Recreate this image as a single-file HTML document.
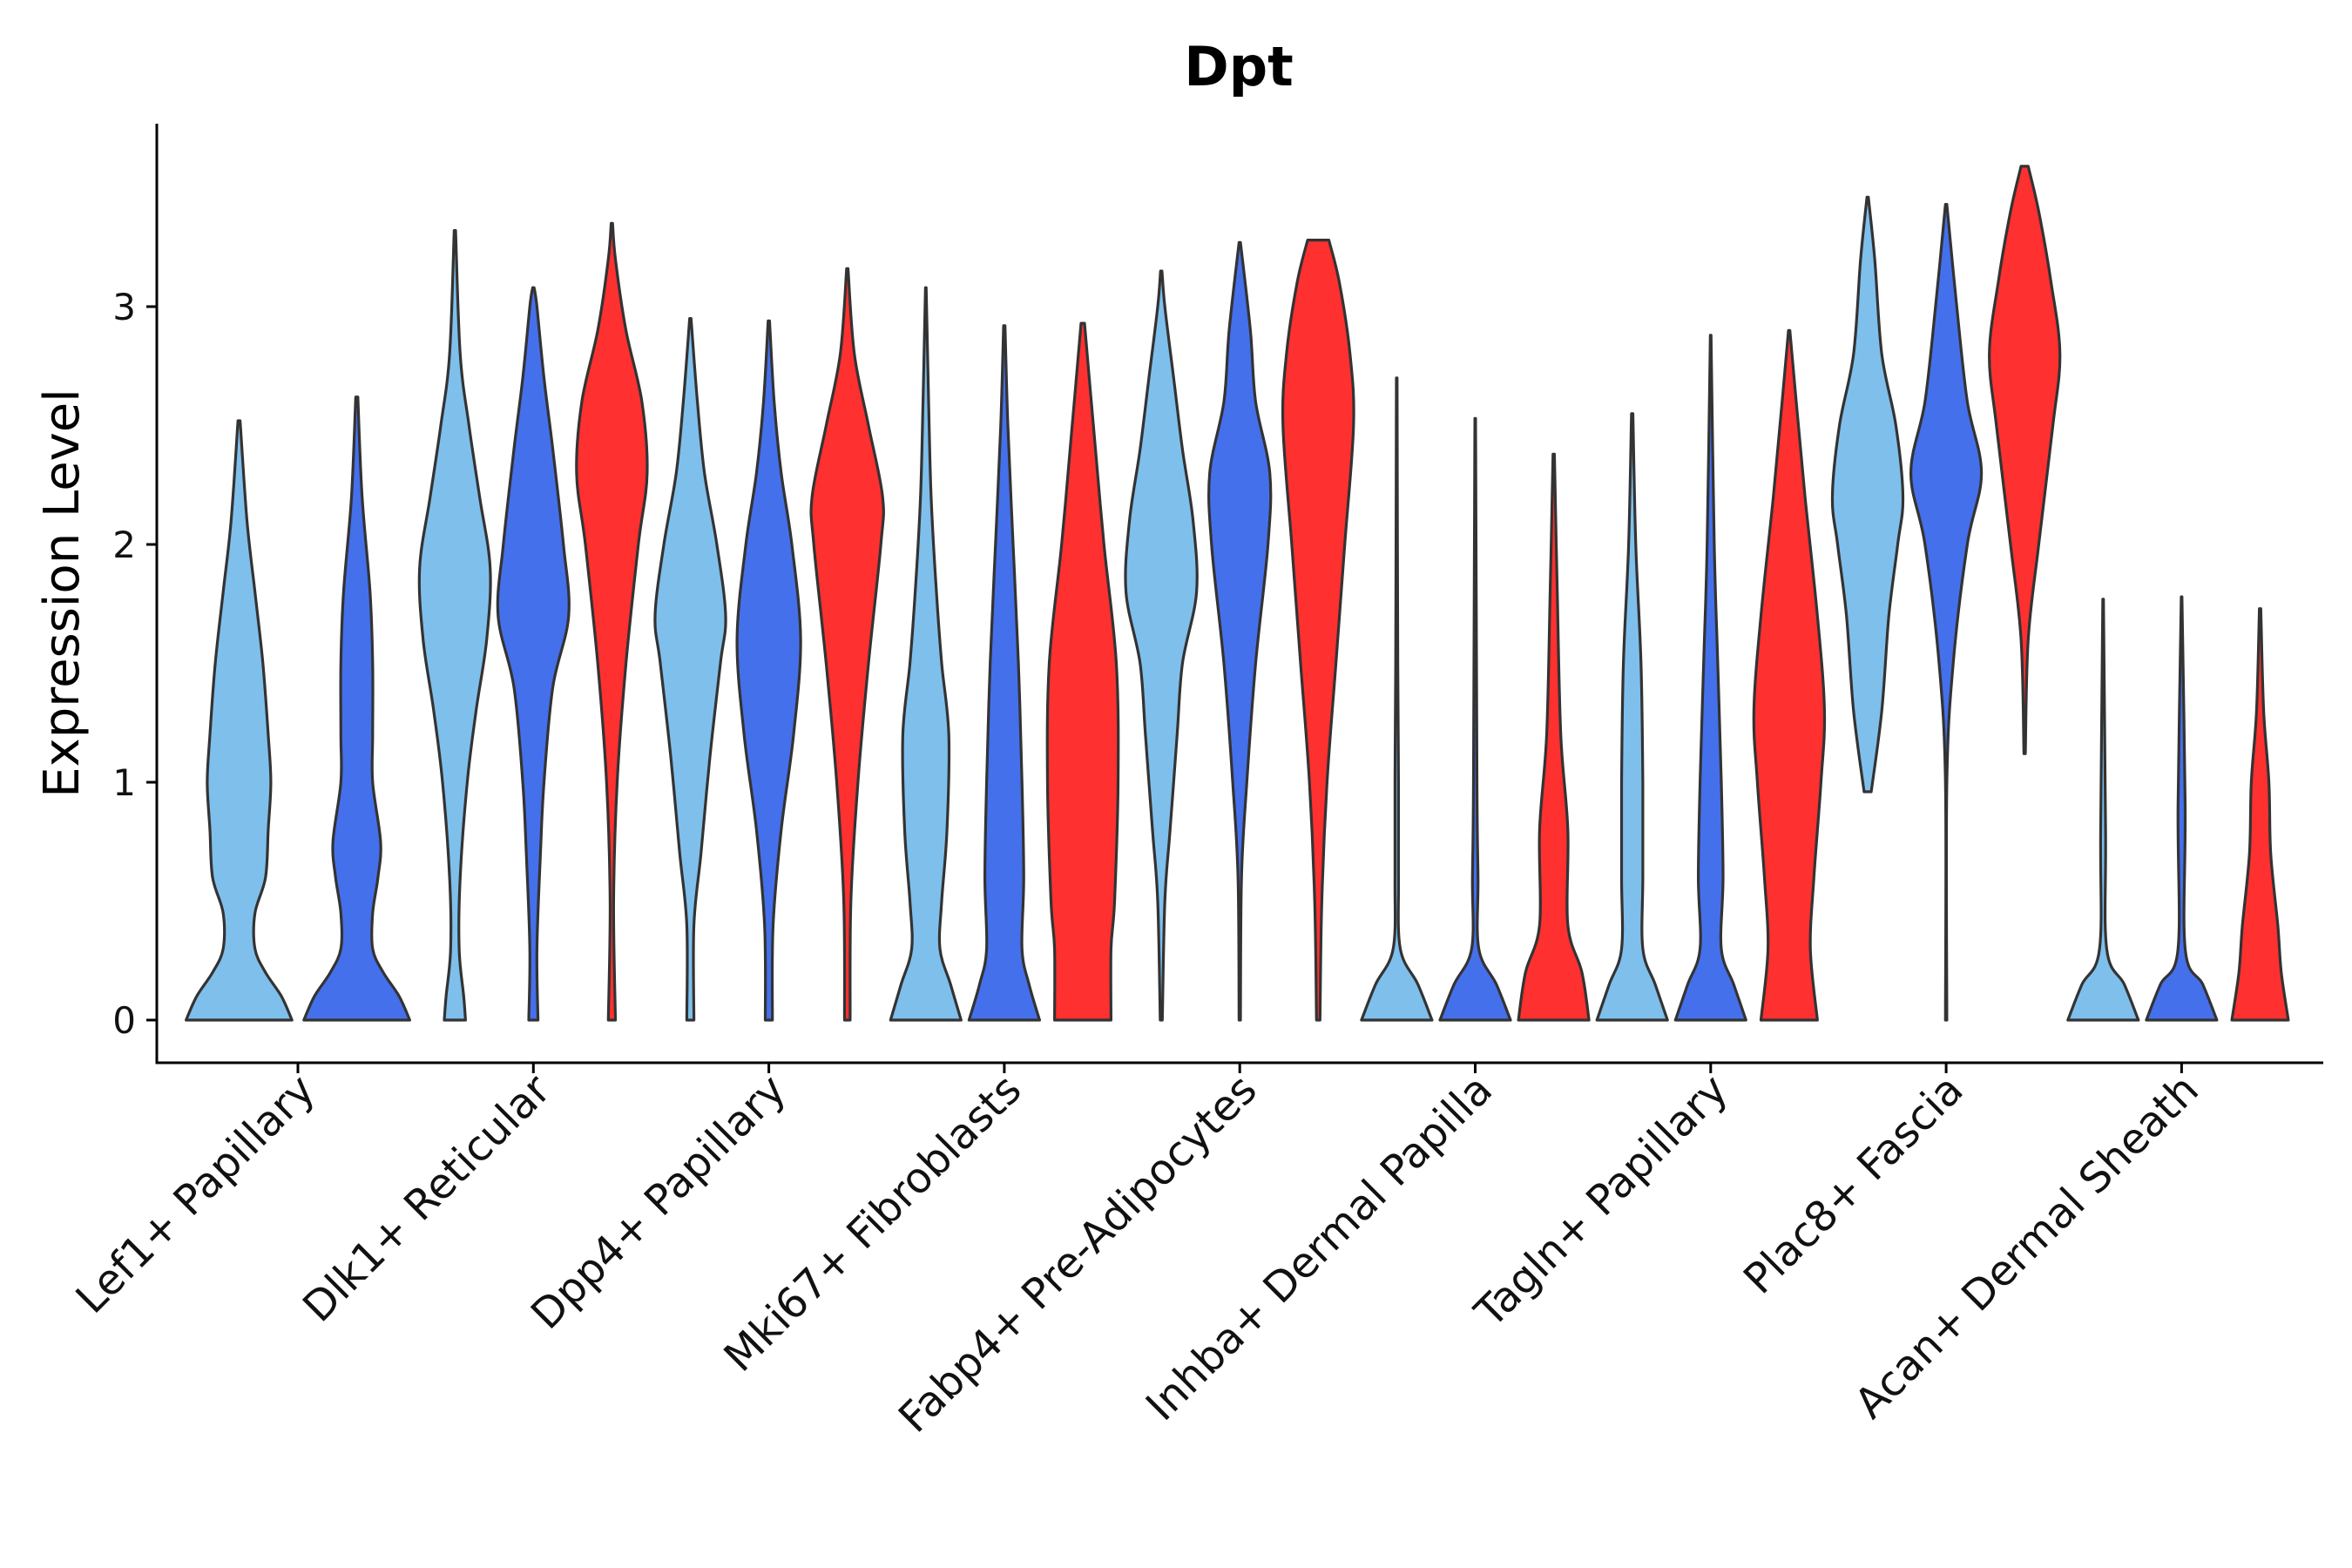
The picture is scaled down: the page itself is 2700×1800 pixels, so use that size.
<!DOCTYPE html>
<html><head><meta charset="utf-8"><style>
html,body{margin:0;padding:0;background:#fff}
svg{display:block;font-family:"DejaVu Sans","Liberation Sans",sans-serif}
</style></head><body>
<svg id="chart" width="2700" height="1800" viewBox="0 0 2700 1800">
<text x="1422" y="98" text-anchor="middle" font-size="62" font-weight="bold" fill="#000">Dpt</text>
<text transform="translate(90,681) rotate(-90)" text-anchor="middle" font-size="56" fill="#000">Expression Level</text>
<g id="plot"></g>
</svg>
<script>
const categories=["Lef1+ Papillary","Dlk1+ Reticular","Dpp4+ Papillary","Mki67+ Fibroblasts","Fabp4+ Pre-Adipocytes","Inhba+ Dermal Papilla","Tagln+ Papillary","Plac8+ Fascia","Acan+ Dermal Sheath"];
const yTicks=[0,1,2,3];
const seriesColors=["#7FBFEC","#4570EC","#FF3030"];
const lef1=[[0,[[0,1],[.1,.8],[.2,.5],[.3,.3],[.45,.3],[.6,.5],[.8,.55],[1,.6],[1.2,.55],[1.5,.45],[1.8,.3],[2.1,.15],[2.52,.02]]],[1,[[0,1],[.1,.8],[.2,.5],[.3,.3],[.45,.3],[.6,.4],[.75,.45],[1,.3],[1.2,.3],[1.5,.3],[1.8,.25],[2.2,.1],[2.62,.02]]]];
const dlk1=[[0,[[0,.3],[.1,.25],[.3,.12],[.6,.15],[1,.35],[1.3,.6],[1.6,.9],[1.9,1],[2.2,.7],[2.5,.4],[2.8,.15],[3.32,.02]]],[1,[[0,.13],[.3,.1],[.7,.2],[1,.3],[1.4,.55],[1.7,1],[2,.85],[2.4,.55],[2.7,.3],[3,.1],[3.08,.02]]],[2,[[0,.1],[.5,.05],[1,.15],[1.5,.4],[2,.75],[2.3,1],[2.6,.85],[2.9,.4],[3.2,.1],[3.35,.02]]]];
const dpp4=[[0,[[0,.1],[.4,.1],[.7,.3],[1.1,.55],[1.5,.85],[1.7,1],[2,.75],[2.3,.4],[2.6,.2],[2.95,.02]]],[1,[[0,.1],[.4,.12],[.8,.35],[1.2,.7],[1.6,.9],[2,.65],[2.3,.35],[2.6,.15],[2.94,.02]]],[2,[[0,.08],[.5,.1],[1,.3],[1.5,.6],[2,.95],[2.2,1],[2.5,.6],[2.8,.2],[3.16,.02]]]];
const mki67=[[0,[[0,1],[.15,.7],[.3,.4],[.5,.45],[.8,.6],[1.2,.65],[1.5,.45],[1.8,.3],[2.2,.15],[2.6,.08],[3.08,.01]]],[1,[[0,1],[.15,.7],[.3,.5],[.6,.55],[1,.5],[1.5,.4],[2,.25],[2.5,.1],[2.92,.02]]],[2,[[0,.8],[.3,.8],[.5,.9],[1,1],[1.5,.95],[2,.6],[2.5,.3],[2.93,.05]]]];
const fabp4=[[0,[[0,.03],[.5,.1],[.8,.25],[1.2,.45],[1.5,.6],[1.8,1],[2.1,.9],[2.4,.6],[2.7,.35],[3,.1],[3.15,.02]]],[1,[[0,.02],[.6,.05],[1,.2],[1.5,.45],[2,.8],[2.3,.85],[2.6,.45],[2.9,.3],[3.27,.02]]],[2,[[0,.05],[.5,.1],[1,.25],[1.5,.5],[2,.75],[2.5,1],[2.8,.9],[3.1,.6],[3.28,.3]]]];
const inhba=[[0,[[0,1],[.15,.6],[.3,.1],[.6,.05],[1,.05],[1.5,.03],[2.7,.01]]],[1,[[0,1],[.15,.6],[.3,.1],[.6,.08],[1,.05],[2.53,.01]]],[2,[[0,1],[.2,.8],[.4,.4],[.8,.4],[1.2,.2],[1.8,.1],[2.38,.02]]]];
const tagln=[[0,[[0,1],[.15,.65],[.3,.3],[.6,.3],[1,.3],[1.5,.25],[2,.1],[2.55,.02]]],[1,[[0,1],[.15,.65],[.3,.3],[.6,.35],[1,.3],[1.5,.2],[2,.1],[2.88,.01]]],[2,[[0,.8],[.3,.6],[.6,.7],[1,.9],[1.3,1],[1.7,.8],[2.2,.45],[2.6,.2],[2.9,.02]]]];
const plac8=[[0,[[.96,.1],[1.3,.4],[1.7,.6],[2,.85],[2.2,1],[2.5,.8],[2.8,.4],[3.2,.2],[3.46,.02]]],[1,[[0,.02],[1,.02],[1.5,.2],[2,.6],[2.3,1],[2.6,.6],[3,.3],[3.43,.02]]],[2,[[1.12,.02],[1.6,.1],[2,.4],[2.5,.8],[2.8,1],[3.1,.75],[3.4,.4],[3.59,.1]]]];
const acan=[[0,[[0,1],[.15,.6],[.3,.1],[.8,.07],[1.77,.01]]],[1,[[0,1],[.15,.6],[.3,.1],[.9,.1],[1.78,.01]]],[2,[[0,.8],[.2,.6],[.4,.5],[.7,.3],[1,.25],[1.3,.1],[1.73,.02]]]];
const groups=[lef1,dlk1,dpp4,mki67,fabp4,inhba,tagln,plac8,acan];

const NS="http://www.w3.org/2000/svg";
const plot=document.getElementById('plot');
const X0=180,X1=2667,Ytop=142,Ybot=1220;
const firstCenter=342,slot=270.3;
function xScale(i){return firstCenter+i*slot;}
function yScale(v){return 1171-v*273;}
function mk(tag,attrs){const e=document.createElementNS(NS,tag);for(const k in attrs)e.setAttribute(k,attrs[k]);return e;}
function smoothSide(pts){
  let s="";
  for(let i=0;i<pts.length-1;i++){
    const p0=pts[Math.max(0,i-1)],p1=pts[i],p2=pts[i+1],p3=pts[Math.min(pts.length-1,i+2)];
    const c1=[p1[0]+(p2[0]-p0[0])/6,p1[1]+(p2[1]-p0[1])/6];
    const c2=[p2[0]-(p3[0]-p1[0])/6,p2[1]-(p3[1]-p1[1])/6];
    s+="C"+c1.map(v=>v.toFixed(1)).join(",")+" "+c2.map(v=>v.toFixed(1)).join(",")+" "+p2.map(v=>v.toFixed(1)).join(",");
  }
  return s;
}

groups.forEach((g,gi)=>{
  const n=g.length, sub=slot/n, half=sub*0.45;
  g.forEach((v,vi)=>{
    const cx=xScale(gi)-slot/2+sub*(vi+0.5);
    const prof=v[1];
    const right=prof.map(p=>[cx+p[1]*half,yScale(p[0])]);
    const left=prof.slice().reverse().map(p=>[cx-p[1]*half,yScale(p[0])]);
    const d="M"+right[0][0].toFixed(1)+","+right[0][1].toFixed(1)+smoothSide(right)+"L"+left[0][0].toFixed(1)+","+left[0][1].toFixed(1)+smoothSide(left)+"Z";
    const path=mk('path',{d:d,fill:seriesColors[v[0]],stroke:"#333",'stroke-width':3.2,'stroke-linejoin':'round'});
    
    
    plot.appendChild(path);
  });
  const tx=xScale(gi);
  const t=mk('line',{x1:tx,x2:tx,y1:Ybot,y2:Ybot+12,stroke:"#000",'stroke-width':3});
  
  
  plot.appendChild(t);
  const lab=mk('text',{transform:`translate(${tx+22},${Ybot+34}) rotate(-45)`,'text-anchor':'end','font-size':48,fill:"#111"});
  lab.textContent=categories[gi];
  
  
  plot.appendChild(lab);
});
yTicks.forEach(v=>{
  const y=yScale(v);
  const t=mk('line',{x1:X0-12,x2:X0,y1:y,y2:y,stroke:"#000",'stroke-width':3});
  
  
  plot.appendChild(t);
  const l=mk('text',{x:X0-24,y:y+15,'text-anchor':'end','font-size':42,fill:"#111"});
  l.textContent=v;
  
  
  plot.appendChild(l);
});
const ax=mk('line',{x1:X0,x2:X0,y1:Ytop,y2:Ybot+1.5,stroke:"#000",'stroke-width':3});


plot.appendChild(ax);
const bx=mk('line',{x1:X0-1.5,x2:X1,y1:Ybot,y2:Ybot,stroke:"#000",'stroke-width':3});


plot.appendChild(bx);
</script>
</body></html>
